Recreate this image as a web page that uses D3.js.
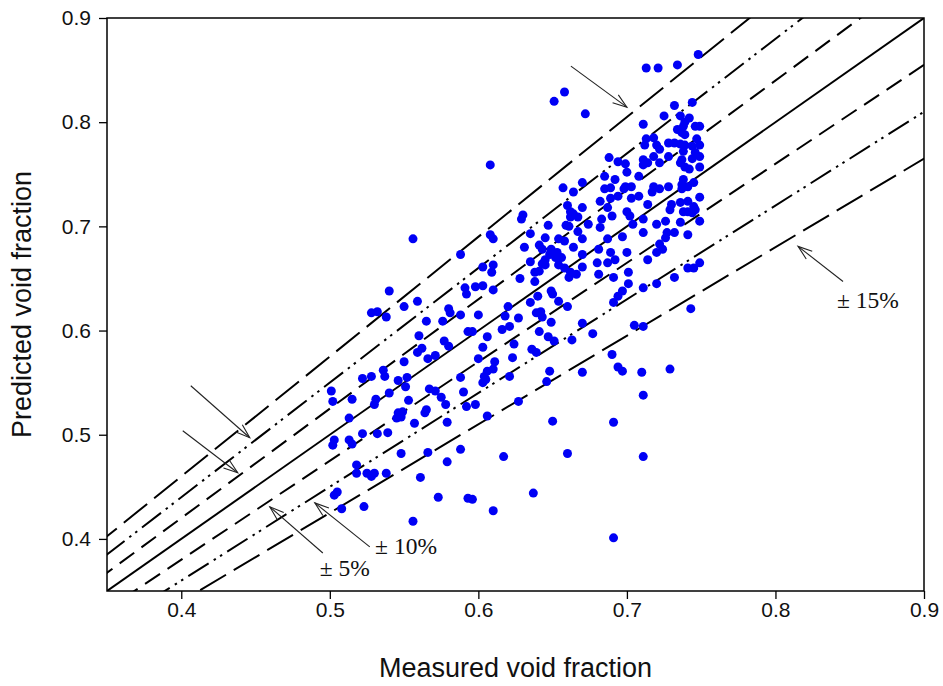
<!DOCTYPE html>
<html>
<head>
<meta charset="utf-8">
<script src="https://cdn.jsdelivr.net/npm/d3@7"></script>
<style>
  html, body { margin: 0; padding: 0; background: #fff; }
  svg { display: block; }
</style>
</head>
<body>
<svg id="chart" width="943" height="686"></svg>
<script>
// Measured vs. predicted void fraction
const measured = [
  0.748,0.713,0.721,0.734,0.744,0.732,0.725,0.736,0.742,0.711,0.739,0.746,0.749,0.734,0.737,0.718,0.713,0.747,0.712,0.720,
  0.728,0.732,0.736,0.739,0.744,0.749,0.722,0.738,0.746,0.718,0.728,0.749,0.711,0.737,0.744,0.699,0.711,0.714,0.722,0.736,
  0.700,0.739,0.742,0.749,0.708,0.737,0.745,0.699,0.703,0.718,0.722,0.728,0.741,0.717,0.698,0.749,0.703,0.708,0.714,0.730,
  0.736,0.741,0.745,0.738,0.739,0.738,0.737,0.738,
  0.700,0.702,0.729,0.741,0.744,0.746,0.711,0.704,0.720,0.726,0.736,0.749,0.711,0.727,0.732,0.697,0.741,0.726,0.722,0.724,
  0.720,0.700,0.714,0.749,0.741,0.745,0.701,0.732,0.701,0.720,0.711,0.697,0.743,0.705,0.711,0.729,0.697,0.710,
  0.711,0.711,
  0.658,0.651,0.672,
  0.608,0.688,0.694,0.670,0.685,0.692,0.657,0.664,0.685,0.689,0.682,0.689,0.694,0.660,0.670,0.687,0.662,0.664,0.667,0.662,
  0.630,0.629,0.683,0.690,0.647,0.659,0.661,0.674,0.682,0.667,0.608,0.610,0.635,0.645,0.654,0.658,0.670,0.687,0.631,0.641,
  0.643,0.649,0.653,0.648,0.652,0.664,0.681,0.689,0.656,0.670,0.635,0.643,0.645,0.645,0.654,0.658,0.680,0.687,0.692,0.603,
  0.610,0.609,0.662,0.666,0.670,0.638,0.641,0.628,0.638,0.681,0.661,0.691,0.598,0.603,0.649,0.650,0.640,0.635,0.654,0.620,
  0.694,0.691,0.660,0.610,
  0.600,0.618,0.627,0.639,0.642,0.643,0.649,0.596,0.606,0.616,0.621,0.641,0.647,0.651,0.670,0.677,0.663,0.624,0.636,0.639,
  0.623,0.603,0.600,0.611,0.690,0.694,0.610,0.606,0.604,0.605,0.603,0.648,0.670,0.621,0.646,0.598,0.627,0.606,0.650,0.691,
  0.617,0.660,0.596,0.637,0.610,0.691,
  0.540,0.528,0.532,0.538,0.550,0.559,0.591,0.592,0.580,0.581,0.588,0.565,0.576,0.593,0.560,0.577,0.580,0.562,0.559,0.566,
  0.571,0.550,0.536,0.522,0.528,0.537,0.546,0.552,0.551,0.588,0.590,0.501,0.567,0.571,0.575,0.502,0.515,0.540,0.531,0.530,
  0.553,0.578,0.592,0.565,0.564,0.546,0.548,0.545,0.549,0.513,0.557,0.579,
  0.503,0.502,0.513,0.515,0.522,0.532,0.539,0.548,0.566,0.588,0.518,0.518,0.525,0.528,0.530,0.538,0.561,0.579,0.505,0.503,
  0.573,0.593,0.508,0.523,0.556,
  0.556,0.588
];
const predicted = [
  0.865,0.852,0.852,0.855,0.819,0.816,0.806,0.806,0.804,0.798,0.800,0.796,0.796,0.793,0.790,0.785,0.784,0.784,0.778,0.778,
  0.780,0.780,0.779,0.778,0.777,0.778,0.774,0.772,0.771,0.767,0.767,0.767,0.764,0.764,0.765,0.760,0.759,0.761,0.761,0.761,
  0.752,0.757,0.755,0.757,0.748,0.740,0.742,0.738,0.738,0.738,0.736,0.738,0.738,0.733,0.736,0.728,0.727,0.729,0.721,0.721,
  0.723,0.724,0.719,0.796,0.788,0.745,0.736,0.714,
  0.714,0.710,0.716,0.714,0.713,0.716,0.707,0.702,0.702,0.705,0.704,0.705,0.694,0.694,0.694,0.690,0.692,0.689,0.683,0.678,
  0.675,0.675,0.668,0.665,0.660,0.660,0.656,0.651,0.645,0.645,0.641,0.638,0.621,0.605,0.604,0.563,0.561,0.560,
  0.538,0.479,
  0.829,0.820,0.808,
  0.759,0.766,0.762,0.742,0.748,0.745,0.737,0.733,0.736,0.737,0.724,0.727,0.729,0.720,0.718,0.718,0.714,0.712,0.709,0.709,
  0.711,0.707,0.707,0.710,0.701,0.701,0.700,0.702,0.699,0.695,0.692,0.688,0.693,0.689,0.688,0.686,0.688,0.688,0.680,0.682,
  0.678,0.678,0.675,0.673,0.670,0.680,0.678,0.675,0.670,0.673,0.666,0.664,0.663,0.668,0.663,0.660,0.665,0.665,0.668,0.661,
  0.663,0.656,0.656,0.654,0.661,0.656,0.657,0.650,0.647,0.654,0.651,0.651,0.642,0.643,0.638,0.635,0.633,0.627,0.628,0.623,
  0.633,0.627,0.623,0.639,
  0.615,0.614,0.612,0.617,0.618,0.613,0.608,0.599,0.594,0.601,0.604,0.599,0.594,0.590,0.607,0.597,0.591,0.587,0.582,0.579,
  0.574,0.584,0.573,0.570,0.577,0.565,0.563,0.561,0.556,0.553,0.550,0.561,0.560,0.556,0.551,0.529,0.532,0.518,0.513,0.512,
  0.479,0.482,0.438,0.444,0.427,0.401,
  0.638,0.617,0.618,0.613,0.623,0.628,0.641,0.635,0.621,0.617,0.615,0.609,0.609,0.599,0.595,0.590,0.585,0.583,0.579,0.573,
  0.576,0.570,0.562,0.554,0.556,0.556,0.552,0.555,0.546,0.555,0.541,0.542,0.544,0.542,0.536,0.532,0.534,0.540,0.534,0.529,
  0.533,0.529,0.527,0.524,0.521,0.521,0.517,0.516,0.522,0.516,0.511,0.512,
  0.495,0.490,0.495,0.491,0.501,0.501,0.502,0.482,0.483,0.486,0.471,0.463,0.463,0.460,0.463,0.463,0.459,0.474,0.445,0.442,
  0.440,0.439,0.429,0.431,0.417,
  0.688,0.673
];

// Reference lines y = k * x
const refFactors = [1.15, 1.10, 1.05, 1.00, 0.95, 0.90, 0.85];
const refStyles  = ["long", "dashdotdot", "dash", "solid", "dash", "dashdotdot", "long"];

const xTicks = [0.4, 0.5, 0.6, 0.7, 0.8, 0.9];
const yTicks = [0.4, 0.5, 0.6, 0.7, 0.8, 0.9];

// Annotation arrows (tail -> head) and labels, in data units
const arrowTails = [[0.4064, 0.547], [0.401, 0.5038], [0.4953, 0.3865], [0.5269, 0.3923], [0.6623, 0.8538], [0.8455, 0.6471]];
const arrowHeads = [[0.4461, 0.4971], [0.438, 0.4635], [0.4596, 0.4308], [0.4899, 0.4346], [0.700, 0.8144], [0.8152, 0.6808]];
const labelTexts = ["\u00B1 5%", "\u00B1 10%", "\u00B1 15%"];
const labelPos   = [[0.4932, 0.3645], [0.5305, 0.3855], [0.8415, 0.6215]];

const svg = d3.select("#chart");
const margin = { left: 107, top: 18, right: 19, bottom: 95 };
const W = 943, H = 686;
const x = d3.scaleLinear().domain([0.35, 0.9]).range([margin.left, W - margin.right]);
const y = d3.scaleLinear().domain([0.35, 0.9]).range([H - margin.bottom, margin.top]);

svg.append("defs").append("clipPath").attr("id", "plotClip")
  .append("rect")
  .attr("x", x(0.35)).attr("y", y(0.9))
  .attr("width", x(0.9) - x(0.35)).attr("height", y(0.35) - y(0.9));

const dashes = {
  solid: null,
  dash: "18,9",
  long: "30,9",
  dashdotdot: "24,6,2.5,5,2.5,6"
};

// Reference lines
const lineG = svg.append("g").attr("clip-path", "url(#plotClip)");
const lineGen = d3.line().x(d => x(d[0])).y(d => y(d[1]));
refFactors.forEach((k, i) => {
  const pts = [[0.3, 0.3 * k], [0.95, 0.95 * k]];
  lineG.append("path")
    .attr("d", lineGen(pts))
    .attr("fill", "none")
    .attr("stroke", "#000")
    .attr("stroke-width", 2)
    .attr("stroke-dasharray", dashes[refStyles[i]]);
});

// Scatter points
const ptsG = svg.append("g").attr("clip-path", "url(#plotClip)");
ptsG.selectAll("circle")
  .data(measured.map((m, i) => [m, predicted[i]]))
  .join("circle")
  .attr("cx", d => x(d[0]))
  .attr("cy", d => y(d[1]))
  .attr("r", 4.5)
  .attr("fill", "#0000f5");

// Arrows with open heads
const arrowG = svg.append("g").attr("stroke", "#222").attr("stroke-width", 1.1).attr("fill", "none");
arrowTails.forEach((t, i) => {
  const h = arrowHeads[i];
  const x1 = x(t[0]), y1 = y(t[1]), x2 = x(h[0]), y2 = y(h[1]);
  arrowG.append("line").attr("x1", x1).attr("y1", y1).attr("x2", x2).attr("y2", y2);
  const ang = Math.atan2(y1 - y2, x1 - x2);
  const len = 15, spread = 0.33;
  const p1 = [x2 + len * Math.cos(ang + spread), y2 + len * Math.sin(ang + spread)];
  const p2 = [x2 + len * Math.cos(ang - spread), y2 + len * Math.sin(ang - spread)];
  arrowG.append("path").attr("d", `M${p1[0]},${p1[1]}L${x2},${y2}L${p2[0]},${p2[1]}`);
});

// Labels
labelTexts.forEach((txt, i) => {
  svg.append("text")
    .attr("x", x(labelPos[i][0]))
    .attr("y", y(labelPos[i][1]))
    .attr("font-family", "'Liberation Serif', 'Times New Roman', serif")
    .attr("font-size", 23.5)
    .attr("fill", "#111")
    .text(txt);
});

// Frame
svg.append("rect")
  .attr("x", x(0.35)).attr("y", y(0.9))
  .attr("width", x(0.9) - x(0.35)).attr("height", y(0.35) - y(0.9))
  .attr("fill", "none").attr("stroke", "#000").attr("stroke-width", 1.5);

// Axes
const xAxis = d3.axisBottom(x).tickValues(xTicks).tickFormat(d3.format(".1f")).tickSize(8).tickPadding(0).tickSizeOuter(0);
const yAxis = d3.axisLeft(y).tickValues(yTicks).tickFormat(d3.format(".1f")).tickSize(8).tickSizeOuter(0);

const gx = svg.append("g").attr("transform", `translate(0,${y(0.35)})`).call(xAxis);
const gy = svg.append("g").attr("transform", `translate(${x(0.35)},0)`).call(yAxis);
[gx, gy].forEach(g => {
  g.select(".domain").remove();
  g.selectAll(".tick line").attr("stroke", "#000").attr("stroke-width", 1.3);
  g.selectAll(".tick text")
    .attr("font-family", "Arial, 'Liberation Sans', sans-serif")
    .attr("font-size", 21)
    .attr("fill", "#111");
});
gx.selectAll(".tick text").attr("dy", "0.85em");
gy.selectAll(".tick text").attr("x", -16);

// Axis titles
svg.append("text")
  .attr("x", (x(0.35) + x(0.9)) / 2)
  .attr("y", 677)
  .attr("text-anchor", "middle")
  .attr("font-family", "Arial, 'Liberation Sans', sans-serif")
  .attr("font-size", 27)
  .attr("fill", "#111")
  .text("Measured void fraction");

svg.append("text")
  .attr("transform", `translate(31,${(y(0.35) + y(0.9)) / 2}) rotate(-90)`)
  .attr("text-anchor", "middle")
  .attr("font-family", "Arial, 'Liberation Sans', sans-serif")
  .attr("font-size", 27)
  .attr("fill", "#111")
  .text("Predicted void fraction");
</script>
</body>
</html>
